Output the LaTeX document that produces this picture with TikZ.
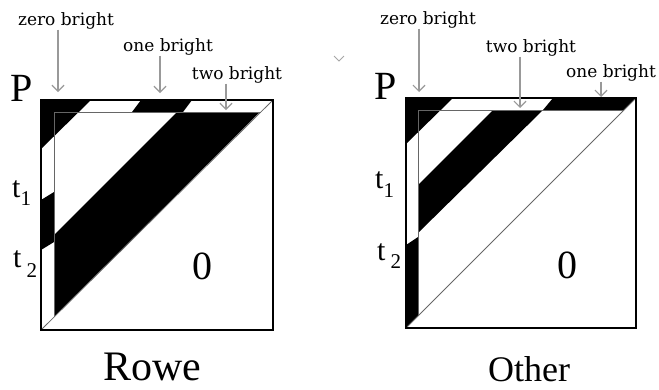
\documentclass[tikz,border=0pt]{standalone}
\usepackage{fontspec}
\setmainfont{Liberation Serif}
\newfontfamily\lblfont{DejaVu Serif}
\usetikzlibrary{arrows.meta}
\tikzset{lb/.style={font=\lblfont\fontsize{17}{19}\selectfont,inner sep=0pt},
 ar/.style={draw=black!40,line width=1.2pt,-{Straight Barb[length=6pt,width=12pt]}},
 bx/.style={line width=1.5pt},ln/.style={draw=black!60,line width=0.8pt},
 big/.style={font=\fontsize{40}{44}\selectfont,inner sep=0pt},
 tt/.style={font=\fontsize{30}{32}\selectfont,inner sep=0pt,anchor=base west}}
\newcommand\tsub[2]{\raisebox{-#1pt}{\fontsize{21}{22}\selectfont#2}}

\begin{document}
\begin{tikzpicture}[x=1pt,y=-1pt]
\useasboundingbox (0,0) rectangle (659,389);
% Rowe
\fill (41,100)--(91,100)--(41,149)--cycle;\fill (141,100)--(192,100)--(183,112)--(132,112)--cycle;
\fill (177,112)--(260,112)--(54,317)--(54,235)--cycle;\fill (41,200)--(54,192)--(54,242)--(41,250)--cycle;
\draw[ln] (54,317)--(54,112)--(261,112);\draw[ln] (41,330)--(273,100);\draw[bx] (41,100) rectangle (273,330);
\node[big](p1) at (22,88){P};\node[big](z1) at (202,266){0};\node[big,font=\fontsize{42}{44}\selectfont](n1) at (152,367){Rowe};
\node[tt](ta1) at (12,197){t\tsub{8}{1}};\node[tt](tb1) at (13,267){t\,\tsub{10}{2}};
% Other
\fill (406,98)--(453,98)--(406,144)--cycle;\fill (553,98)--(636,98)--(624,110)--(543,110)--cycle;
\fill (493,110)--(543,110)--(418,233)--(418,185)--cycle;\fill (406,245)--(418,237)--(418,316)--(406,328)--cycle;
\draw[ln] (418,316)--(418,110)--(624,110);\draw[ln] (406,328)--(636,98);\draw[bx] (406,98) rectangle (636,328);
\node[big](p2) at (386,86){P};\node[big](z2) at (567,265){0};\node[big,font=\fontsize{36}{38}\selectfont](n2) at (529,369){Other};
\node[tt](ta2) at (375,188){t\tsub{9}{1}};\node[tt](tb2) at (377,260){t\,\tsub{8}{2}};
% labels and arrows
\node[lb](lz1) at (66,21){zero bright};\node[lb](lo1) at (168,47){one bright};\node[lb](lt1) at (237,75){two bright};
\node[lb](lz2) at (428,20){zero bright};\node[lb](lt2) at (531,48){two bright};\node[lb](lo2) at (611,73){one bright};
\coordinate(az1) at (58,92);\coordinate(ao1) at (160,93);\coordinate(at1) at (226,110);
\coordinate(az2) at (419,92);\coordinate(at2) at (520,108);\coordinate(ao2) at (601,97);
\foreach\x/\y in {lz1/az1,lo1/ao1,lt1/at1,lz2/az2,lt2/at2,lo2/ao2}{\draw[ar](\x.south -| \y)--(\y);}
\draw[draw=black!35,line width=0.8pt] (334,56)--(339,61)--(344,56);
\end{tikzpicture}
\end{document}
